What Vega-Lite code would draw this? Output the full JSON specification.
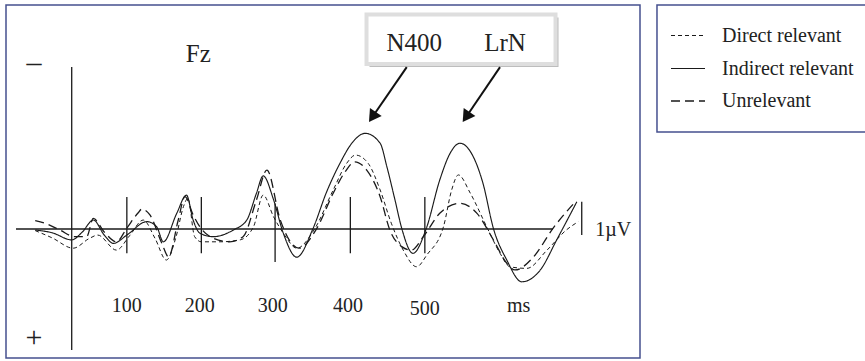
{
  "$schema": "https://vega.github.io/schema/vega-lite/v6.json",
  "width": 634,
  "height": 353,
  "autosize": {"type": "none"},
  "padding": {"left": 6, "top": 5, "right": 225, "bottom": 3},
  "background": "white",
  "config": {
    "view": {"stroke": "#46508f", "strokeWidth": 1.5},
    "font": "Liberation Serif",
    "legend": {
      "orient": "none",
      "legendX": 651,
      "legendY": 0,
      "padding": 13,
      "strokeColor": null,
      "fillColor": null,
      "symbolType": "stroke",
      "symbolSize": 1156,
      "labelFont": "Liberation Serif",
      "labelFontSize": 20,
      "labelColor": "#222222",
      "labelOffset": 16,
      "labelLimit": 0,
      "rowPadding": 4.5
    }
  },
  "datasets": {
    "erp": [
      {"cond": "Direct relevant", "ms": -23, "uv": 0.05},
      {"cond": "Direct relevant", "ms": 0, "uv": 0.28},
      {"cond": "Direct relevant", "ms": 28, "uv": 0.6},
      {"cond": "Direct relevant", "ms": 50, "uv": 0.29},
      {"cond": "Direct relevant", "ms": 61, "uv": 0.19},
      {"cond": "Direct relevant", "ms": 86, "uv": 0.66},
      {"cond": "Direct relevant", "ms": 104, "uv": 0.2},
      {"cond": "Direct relevant", "ms": 122, "uv": -0.28},
      {"cond": "Direct relevant", "ms": 138, "uv": 0.3},
      {"cond": "Direct relevant", "ms": 153, "uv": 0.97},
      {"cond": "Direct relevant", "ms": 166, "uv": 0.25},
      {"cond": "Direct relevant", "ms": 176, "uv": -0.7},
      {"cond": "Direct relevant", "ms": 182, "uv": -0.96},
      {"cond": "Direct relevant", "ms": 191, "uv": 0.24},
      {"cond": "Direct relevant", "ms": 200, "uv": 0.4},
      {"cond": "Direct relevant", "ms": 225, "uv": 0.4},
      {"cond": "Direct relevant", "ms": 252, "uv": 0.34},
      {"cond": "Direct relevant", "ms": 270, "uv": -0.07},
      {"cond": "Direct relevant", "ms": 283, "uv": -1.06},
      {"cond": "Direct relevant", "ms": 297, "uv": -0.38},
      {"cond": "Direct relevant", "ms": 312, "uv": 0.2},
      {"cond": "Direct relevant", "ms": 328, "uv": 0.6},
      {"cond": "Direct relevant", "ms": 352, "uv": 0},
      {"cond": "Direct relevant", "ms": 377, "uv": -1.22},
      {"cond": "Direct relevant", "ms": 395, "uv": -2.05},
      {"cond": "Direct relevant", "ms": 407, "uv": -2.31},
      {"cond": "Direct relevant", "ms": 424, "uv": -2.05},
      {"cond": "Direct relevant", "ms": 440, "uv": -1.22},
      {"cond": "Direct relevant", "ms": 455, "uv": -0.18},
      {"cond": "Direct relevant", "ms": 471, "uv": 0.66},
      {"cond": "Direct relevant", "ms": 489, "uv": 1.18},
      {"cond": "Direct relevant", "ms": 503, "uv": 0.8},
      {"cond": "Direct relevant", "ms": 525, "uv": -0.07},
      {"cond": "Direct relevant", "ms": 536, "uv": -1.22},
      {"cond": "Direct relevant", "ms": 545, "uv": -1.69},
      {"cond": "Direct relevant", "ms": 561, "uv": -1.12},
      {"cond": "Direct relevant", "ms": 583, "uv": -0.07},
      {"cond": "Direct relevant", "ms": 601, "uv": 0.76},
      {"cond": "Direct relevant", "ms": 614, "uv": 1.18},
      {"cond": "Direct relevant", "ms": 637, "uv": 1.23},
      {"cond": "Direct relevant", "ms": 664, "uv": 0.66},
      {"cond": "Direct relevant", "ms": 690, "uv": 0.03},
      {"cond": "Direct relevant", "ms": 706, "uv": -0.23},
      {"cond": "Indirect relevant", "ms": -23, "uv": 0.03},
      {"cond": "Indirect relevant", "ms": 0, "uv": 0.12},
      {"cond": "Indirect relevant", "ms": 26, "uv": 0.34},
      {"cond": "Indirect relevant", "ms": 40, "uv": 0.1},
      {"cond": "Indirect relevant", "ms": 55, "uv": -0.28},
      {"cond": "Indirect relevant", "ms": 70, "uv": 0.2},
      {"cond": "Indirect relevant", "ms": 82, "uv": 0.45},
      {"cond": "Indirect relevant", "ms": 100, "uv": 0.19},
      {"cond": "Indirect relevant", "ms": 127, "uv": -0.23},
      {"cond": "Indirect relevant", "ms": 140, "uv": -0.07},
      {"cond": "Indirect relevant", "ms": 149, "uv": 0.4},
      {"cond": "Indirect relevant", "ms": 167, "uv": -0.49},
      {"cond": "Indirect relevant", "ms": 180, "uv": -1.06},
      {"cond": "Indirect relevant", "ms": 189, "uv": -0.28},
      {"cond": "Indirect relevant", "ms": 198, "uv": 0.13},
      {"cond": "Indirect relevant", "ms": 216, "uv": 0.24},
      {"cond": "Indirect relevant", "ms": 243, "uv": 0.03},
      {"cond": "Indirect relevant", "ms": 261, "uv": -0.28},
      {"cond": "Indirect relevant", "ms": 274, "uv": -1.12},
      {"cond": "Indirect relevant", "ms": 283, "uv": -1.66},
      {"cond": "Indirect relevant", "ms": 297, "uv": -0.91},
      {"cond": "Indirect relevant", "ms": 310, "uv": 0.13},
      {"cond": "Indirect relevant", "ms": 328, "uv": 0.88},
      {"cond": "Indirect relevant", "ms": 350, "uv": -0.02},
      {"cond": "Indirect relevant", "ms": 368, "uv": -1.15},
      {"cond": "Indirect relevant", "ms": 386, "uv": -2.05},
      {"cond": "Indirect relevant", "ms": 402, "uv": -2.68},
      {"cond": "Indirect relevant", "ms": 420, "uv": -2.99},
      {"cond": "Indirect relevant", "ms": 440, "uv": -2.68},
      {"cond": "Indirect relevant", "ms": 449, "uv": -1.95},
      {"cond": "Indirect relevant", "ms": 460, "uv": -0.9},
      {"cond": "Indirect relevant", "ms": 469, "uv": -0.02},
      {"cond": "Indirect relevant", "ms": 484, "uv": 0.76},
      {"cond": "Indirect relevant", "ms": 502, "uv": -0.02},
      {"cond": "Indirect relevant", "ms": 520, "uv": -1.53},
      {"cond": "Indirect relevant", "ms": 534, "uv": -2.37},
      {"cond": "Indirect relevant", "ms": 547, "uv": -2.68},
      {"cond": "Indirect relevant", "ms": 565, "uv": -2.26},
      {"cond": "Indirect relevant", "ms": 578, "uv": -1.43},
      {"cond": "Indirect relevant", "ms": 592, "uv": -0.02},
      {"cond": "Indirect relevant", "ms": 610, "uv": 0.97},
      {"cond": "Indirect relevant", "ms": 630, "uv": 1.65},
      {"cond": "Indirect relevant", "ms": 655, "uv": 1.28},
      {"cond": "Indirect relevant", "ms": 677, "uv": 0.34},
      {"cond": "Indirect relevant", "ms": 704, "uv": -0.85},
      {"cond": "Unrelevant", "ms": -23, "uv": -0.26},
      {"cond": "Unrelevant", "ms": -10, "uv": -0.18},
      {"cond": "Unrelevant", "ms": 10, "uv": 0.03},
      {"cond": "Unrelevant", "ms": 30, "uv": 0.24},
      {"cond": "Unrelevant", "ms": 46, "uv": 0.24},
      {"cond": "Unrelevant", "ms": 55, "uv": -0.33},
      {"cond": "Unrelevant", "ms": 70, "uv": 0.1},
      {"cond": "Unrelevant", "ms": 86, "uv": 0.4},
      {"cond": "Unrelevant", "ms": 100, "uv": -0.03},
      {"cond": "Unrelevant", "ms": 115, "uv": -0.5},
      {"cond": "Unrelevant", "ms": 120, "uv": -0.62},
      {"cond": "Unrelevant", "ms": 131, "uv": -0.44},
      {"cond": "Unrelevant", "ms": 147, "uv": 0.45},
      {"cond": "Unrelevant", "ms": 156, "uv": 0.87},
      {"cond": "Unrelevant", "ms": 169, "uv": -0.28},
      {"cond": "Unrelevant", "ms": 178, "uv": -1.01},
      {"cond": "Unrelevant", "ms": 189, "uv": -0.44},
      {"cond": "Unrelevant", "ms": 198, "uv": -0.07},
      {"cond": "Unrelevant", "ms": 216, "uv": 0.29},
      {"cond": "Unrelevant", "ms": 238, "uv": 0.4},
      {"cond": "Unrelevant", "ms": 256, "uv": 0.24},
      {"cond": "Unrelevant", "ms": 274, "uv": -0.91},
      {"cond": "Unrelevant", "ms": 288, "uv": -1.84},
      {"cond": "Unrelevant", "ms": 306, "uv": -0.28},
      {"cond": "Unrelevant", "ms": 331, "uv": 0.6},
      {"cond": "Unrelevant", "ms": 355, "uv": -0.02},
      {"cond": "Unrelevant", "ms": 377, "uv": -1.12},
      {"cond": "Unrelevant", "ms": 393, "uv": -1.79},
      {"cond": "Unrelevant", "ms": 406, "uv": -2.1},
      {"cond": "Unrelevant", "ms": 422, "uv": -1.84},
      {"cond": "Unrelevant", "ms": 440, "uv": -1.01},
      {"cond": "Unrelevant", "ms": 453, "uv": 0.03},
      {"cond": "Unrelevant", "ms": 469, "uv": 0.55},
      {"cond": "Unrelevant", "ms": 482, "uv": 0.66},
      {"cond": "Unrelevant", "ms": 498, "uv": 0.24},
      {"cond": "Unrelevant", "ms": 520, "uv": -0.49},
      {"cond": "Unrelevant", "ms": 547, "uv": -0.8},
      {"cond": "Unrelevant", "ms": 570, "uv": -0.49},
      {"cond": "Unrelevant", "ms": 592, "uv": 0.34},
      {"cond": "Unrelevant", "ms": 610, "uv": 1.07},
      {"cond": "Unrelevant", "ms": 621, "uv": 1.28},
      {"cond": "Unrelevant", "ms": 646, "uv": 0.87},
      {"cond": "Unrelevant", "ms": 672, "uv": -0.02},
      {"cond": "Unrelevant", "ms": 702, "uv": -0.85}
    ],
    "axes": [
      {"ms": -48.8, "uv": 0, "ms2": 672, "uv2": 0},
      {"ms": 26, "uv": -5.06, "ms2": 26, "uv2": 3.78},
      {"ms": 100, "uv": -1.0, "ms2": 100, "uv2": 0.76},
      {"ms": 200, "uv": -1.0, "ms2": 200, "uv2": 0.76},
      {"ms": 299, "uv": -0.8, "ms2": 299, "uv2": 1.03},
      {"ms": 400, "uv": -1.0, "ms2": 400, "uv2": 0.76},
      {"ms": 500, "uv": -1.0, "ms2": 500, "uv2": 0.76},
      {"ms": 710.6, "uv": -0.85, "ms2": 710.6, "uv2": 0.19}
    ],
    "arrows": [
      {"ms": 475.7, "uv": -5.06, "ms2": 429.6, "uv2": -3.5},
      {"ms": 600.9, "uv": -5.06, "ms2": 555.4, "uv2": -3.5}
    ],
    "callout": [
      {"ms": 421.7, "uv": -6.7, "ms2": 675.4, "uv2": -5.16}
    ],
    "legendframe": [
      {"ms": 811.6, "uv": -7.0, "ms2": 1093.5, "uv2": -3.03}
    ],
    "ticklabels": [
      {"ms": 100, "uv": 2.58, "label": "100"},
      {"ms": 198, "uv": 2.58, "label": "200"},
      {"ms": 296, "uv": 2.58, "label": "300"},
      {"ms": 397, "uv": 2.58, "label": "400"},
      {"ms": 500, "uv": 2.69, "label": "500"},
      {"ms": 626, "uv": 2.59, "label": "ms"},
      {"ms": 753, "uv": 0.22, "label": "1µV"}
    ],
    "titles": [
      {"ms": 196, "uv": -5.23, "label": "Fz"},
      {"ms": 485.7, "uv": -5.57, "label": "N400"},
      {"ms": 607.6, "uv": -5.57, "label": "LrN"}
    ],
    "signs": [
      {"ms": -24.6, "uv": -4.9, "label": "–"},
      {"ms": -24.6, "uv": 3.69, "label": "+"}
    ]
  },
  "encoding": {
    "x": {"field": "ms", "type": "quantitative", "scale": {"domain": [-62.2, 788.8], "nice": false, "zero": false}, "axis": null},
    "y": {"field": "uv", "type": "quantitative", "scale": {"domain": [-7, 4.03125], "nice": false, "zero": false, "reverse": true}, "axis": null}
  },
  "layer": [
    {
      "data": {"name": "legendframe"},
      "mark": {"type": "rect", "fill": "white", "stroke": "#46508f", "strokeWidth": 1.5},
      "encoding": {"x2": {"field": "ms2"}, "y2": {"field": "uv2"}}
    },
    {
      "data": {"name": "callout"},
      "mark": {"type": "rect", "fill": "#bdbdbd", "xOffset": 3, "x2Offset": 3, "yOffset": 3, "y2Offset": 3},
      "encoding": {"x2": {"field": "ms2"}, "y2": {"field": "uv2"}}
    },
    {
      "data": {"name": "callout"},
      "mark": {"type": "rect", "fill": "white", "stroke": "#dedede", "strokeWidth": 4},
      "encoding": {"x2": {"field": "ms2"}, "y2": {"field": "uv2"}}
    },
    {
      "data": {"name": "axes"},
      "mark": {"type": "rule", "color": "#1a1a1a", "strokeWidth": 1.3},
      "encoding": {"x2": {"field": "ms2"}, "y2": {"field": "uv2"}}
    },
    {
      "data": {"name": "arrows"},
      "mark": {"type": "rule", "color": "#111111", "strokeWidth": 2},
      "encoding": {"x2": {"field": "ms2"}, "y2": {"field": "uv2"}}
    },
    {
      "data": {"name": "arrows"},
      "mark": {"type": "point", "shape": "triangle-up", "size": 200, "angle": 214, "filled": true, "color": "#111111", "opacity": 1},
      "encoding": {"x": {"field": "ms2", "type": "quantitative"}, "y": {"field": "uv2", "type": "quantitative"}}
    },
    {
      "data": {"name": "erp"},
      "mark": {"type": "line", "interpolate": "monotone", "color": "#1a1a1a"},
      "encoding": {
        "strokeDash": {"field": "cond", "type": "nominal", "scale": {"domain": ["Direct relevant", "Indirect relevant", "Unrelevant"], "range": [[4, 3], [1, 0], [9, 5]]}, "legend": {"title": null}},
        "strokeWidth": {"field": "cond", "type": "nominal", "scale": {"domain": ["Direct relevant", "Indirect relevant", "Unrelevant"], "range": [1, 1.3, 2.9]}, "legend": {"title": null}}
      }
    },
    {
      "data": {"name": "ticklabels"},
      "mark": {"type": "text", "font": "Liberation Serif", "fontSize": 20, "color": "#222222", "align": "center", "baseline": "alphabetic"},
      "encoding": {"text": {"field": "label"}}
    },
    {
      "data": {"name": "titles"},
      "mark": {"type": "text", "font": "Liberation Serif", "fontSize": 25, "color": "#222222", "align": "center", "baseline": "alphabetic"},
      "encoding": {"text": {"field": "label"}}
    },
    {
      "data": {"name": "signs"},
      "mark": {"type": "text", "font": "Liberation Serif", "fontSize": 30, "color": "#222222", "align": "center", "baseline": "alphabetic"},
      "encoding": {"text": {"field": "label"}}
    }
  ]
}
